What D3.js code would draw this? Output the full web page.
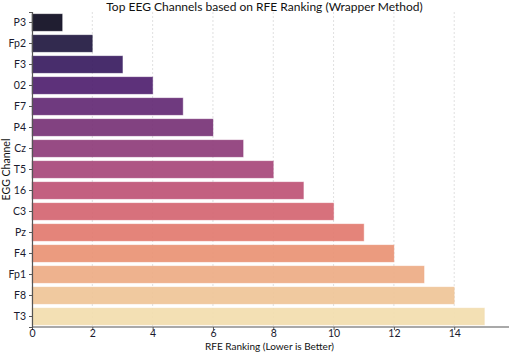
<!DOCTYPE html>
<html>
<head>
<meta charset="utf-8">
<script src="https://cdn.jsdelivr.net/npm/d3@7"></script>
<style>
  body { margin: 0; background: #fff; }
  svg { font-family: Lato, "Open Sans", sans-serif; }
</style>
</head>
<body>
<svg id="chart" width="509" height="352"></svg>
<script>
// channels ranked by RFE (top to bottom)
var channels = ["P3", "Fp2", "F3", "02", "F7", "P4", "Cz", "T5", "16", "C3", "Pz", "F4", "Fp1", "F8", "T3"];
var ranks = [1, 2, 3, 4, 5, 6, 7, 8, 9, 10, 11, 12, 13, 14, 15];
var xTicks = [0, 2, 4, 6, 8, 10, 12, 14];

var width = 509,
    height = 352,
    margin = { top: 12, right: 2, bottom: 25, left: 32 };

var svg = d3.select("#chart");

var x = d3.scaleLinear()
    .domain([0, 15.75])
    .range([margin.left, width - margin.right]);

var y = d3.scaleBand()
    .domain(channels)
    .range([margin.top, height - margin.bottom])
    .paddingInner(0.2)
    .paddingOuter(0.1);

// magma palette, a bit muted like the original
var color = function(i) {
    var c = d3.hsl(d3.interpolateMagma((i + 1) / (channels.length + 1)));
    c.s *= 0.75;
    return c.formatHex();
};

// grid
svg.append("g")
    .selectAll("line")
    .data(xTicks.slice(1))
    .enter()
    .append("line")
    .attr("x1", function(d) { return x(d); })
    .attr("x2", function(d) { return x(d); })
    .attr("y1", margin.top)
    .attr("y2", height - margin.bottom)
    .attr("stroke", "#d8d8d8")
    .attr("stroke-width", 0.8)
    .attr("stroke-dasharray", "2,2");

// bars
svg.append("g")
    .selectAll("rect")
    .data(ranks)
    .enter()
    .append("rect")
    .attr("x", x(0))
    .attr("y", function(d, i) { return y(channels[i]); })
    .attr("width", function(d) { return x(d) - x(0); })
    .attr("height", y.bandwidth())
    .attr("fill", function(d, i) { return color(i); })
    .attr("fill-opacity", 0.92)
    .attr("stroke", function(d, i) { return color(i); })
    .attr("stroke-opacity", 0.4)
    .attr("stroke-width", 1);

// axes
var xAxis = svg.append("g")
    .attr("transform", "translate(0," + (height - margin.bottom) + ")")
    .call(d3.axisBottom(x).tickValues(xTicks).tickSize(3).tickPadding(0));

var yAxis = svg.append("g")
    .attr("transform", "translate(" + margin.left + ",0)")
    .call(d3.axisLeft(y).tickSize(3).tickPadding(3));

[xAxis, yAxis].forEach(function(ax) {
    ax.select(".domain").attr("stroke", "#555").attr("stroke-width", 1.2);
    ax.selectAll(".tick line").attr("stroke", "#555");
    ax.selectAll("text")
        .attr("fill", "#1a1a2e")
        .style("font-size", "10.5px")
        .style("font-family", "Lato, sans-serif");
});
xAxis.select(".domain").attr("d", "M" + margin.left + ",0H" + width);

// title and labels
svg.append("text")
    .attr("x", (margin.left + width - margin.right) / 2 - 5)
    .attr("y", 10.5)
    .attr("text-anchor", "middle")
    .attr("font-size", "12px")
    .attr("fill", "#111")
    .text("Top EEG Channels based on RFE Ranking (Wrapper Method)");

svg.append("text")
    .attr("x", (margin.left + width - margin.right) / 2)
    .attr("y", 350)
    .attr("text-anchor", "middle")
    .attr("font-size", "10px")
    .attr("fill", "#111")
    .text("RFE Ranking (Lower is Better)");

svg.append("text")
    .attr("transform", "translate(10," + ((margin.top + height - margin.bottom) / 2) + ") rotate(-90)")
    .attr("text-anchor", "middle")
    .attr("font-size", "10.5px")
    .attr("fill", "#111")
    .text("EGG Channel");
</script>
</body>
</html>
